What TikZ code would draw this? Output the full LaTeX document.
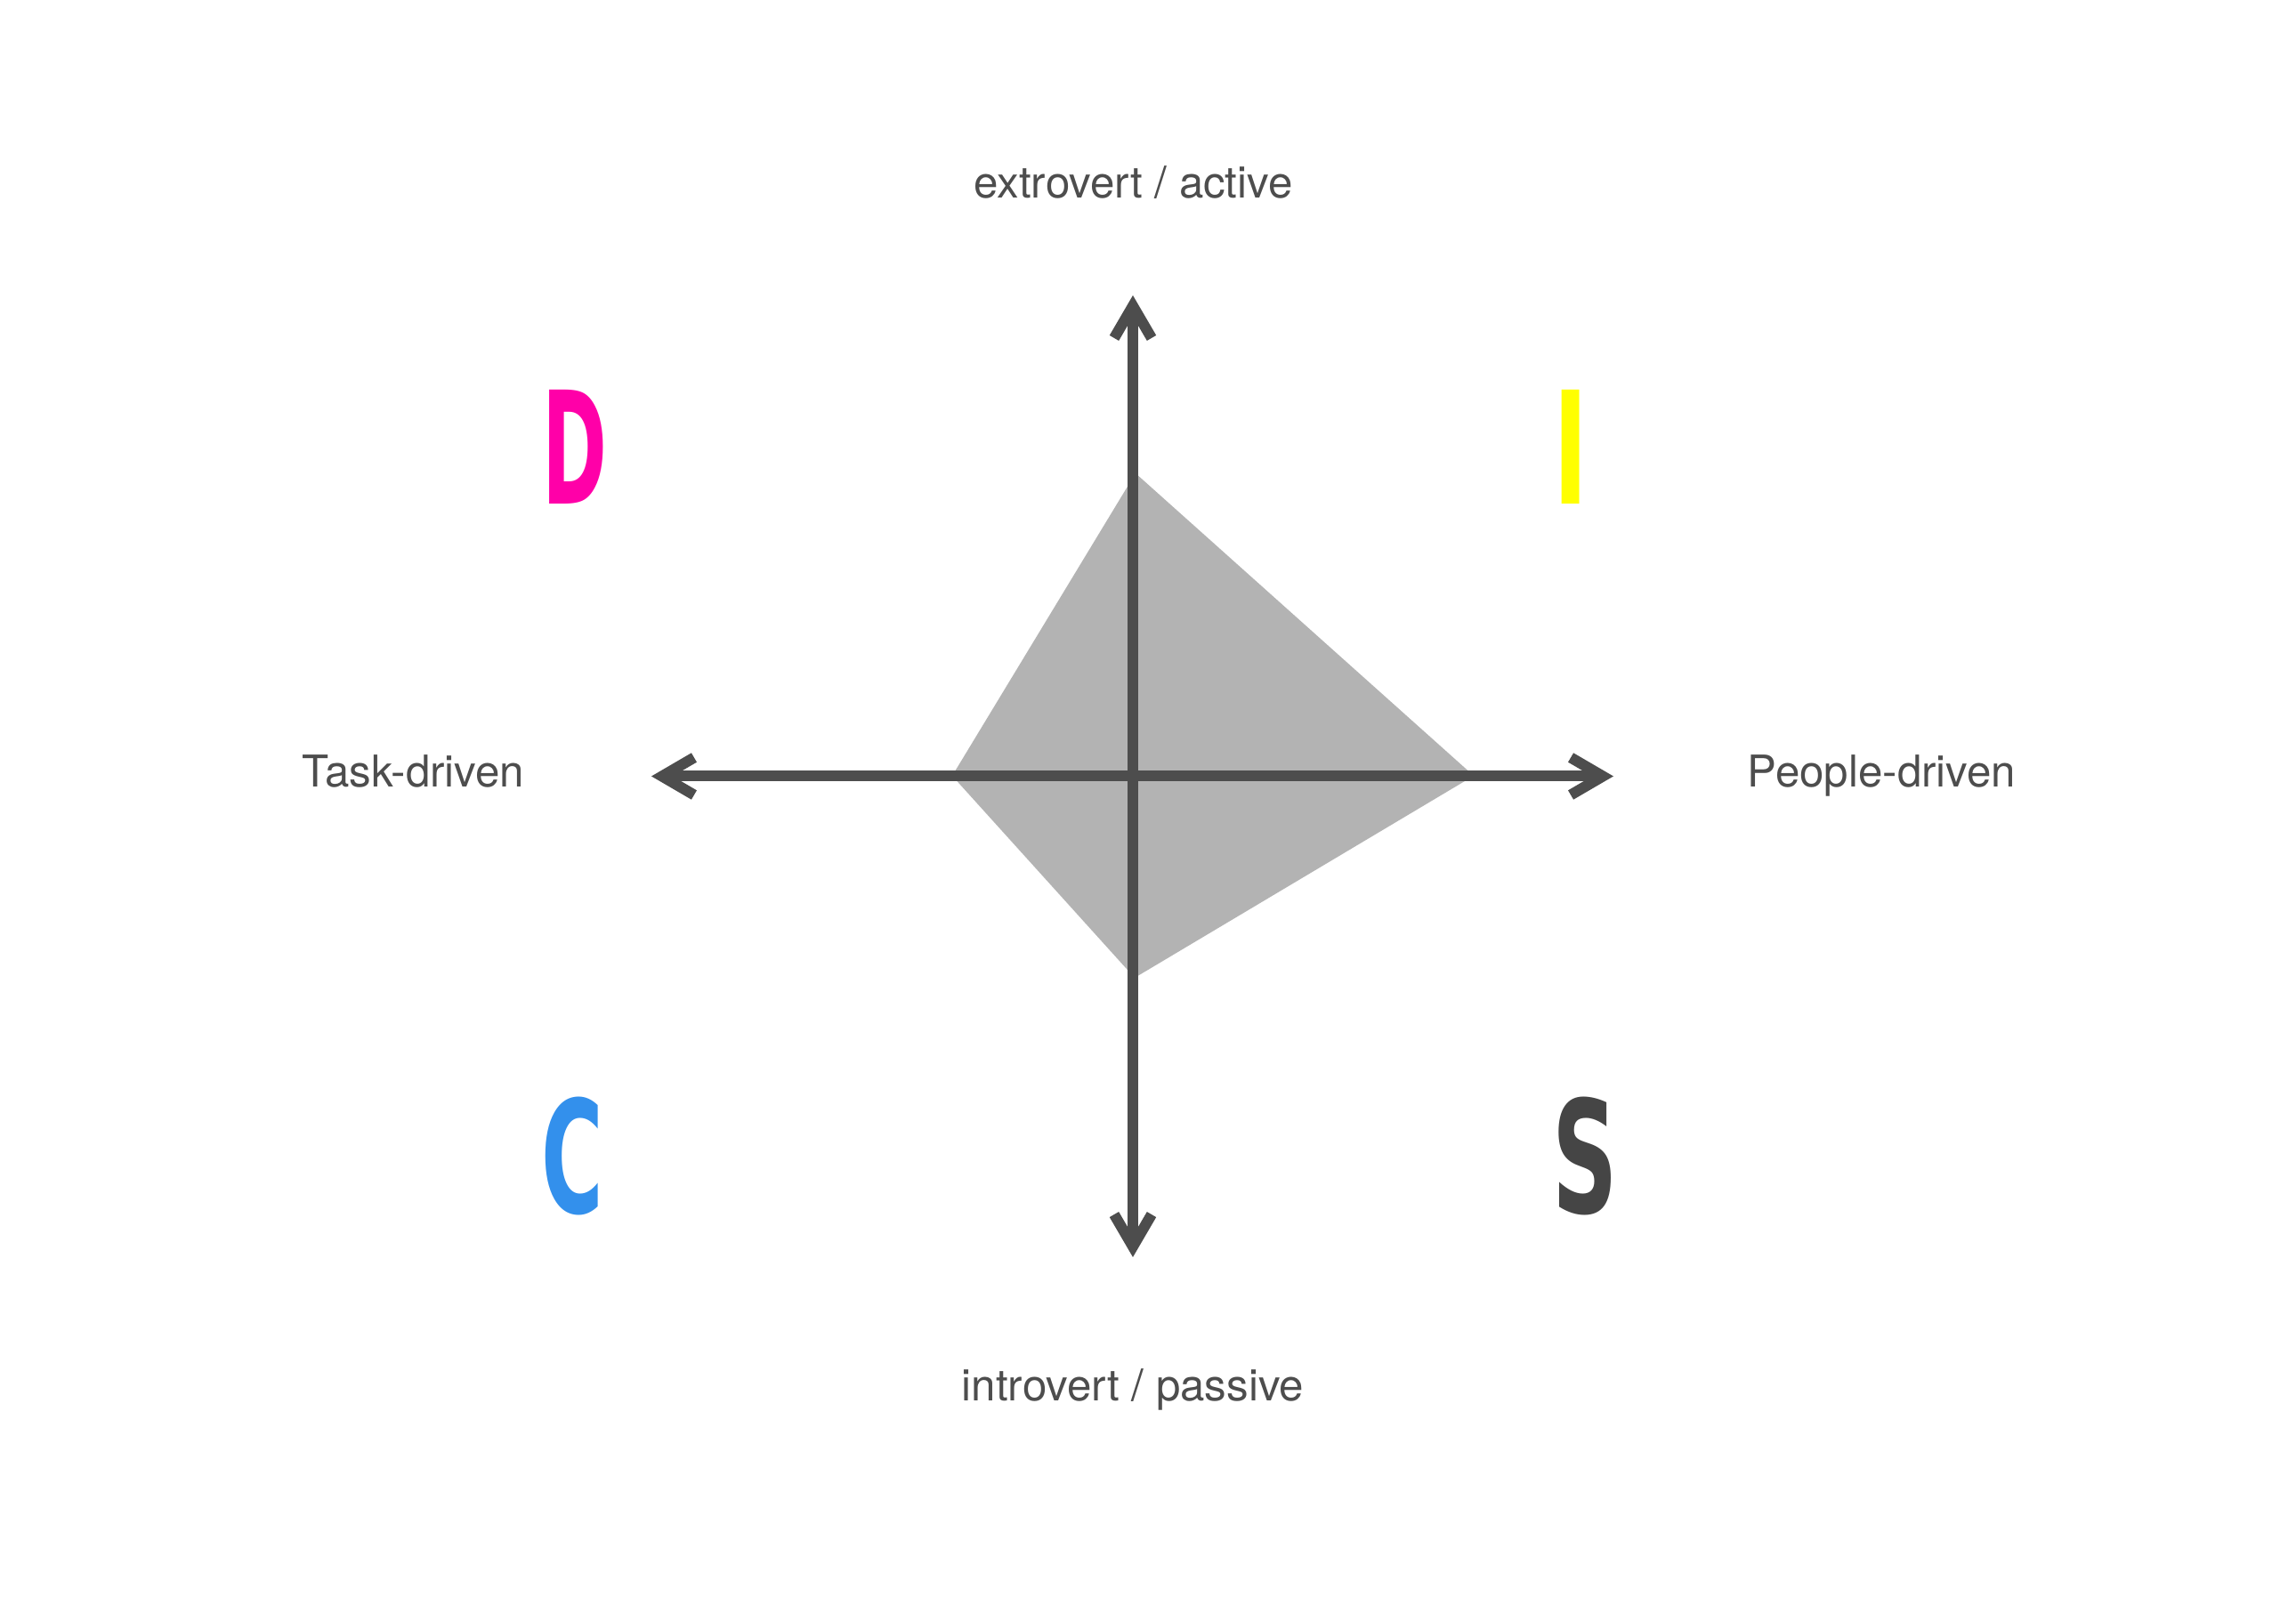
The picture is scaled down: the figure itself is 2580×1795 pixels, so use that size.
\documentclass[tikz,border=0pt]{standalone}
\usepackage{fontspec}
\setmainfont{TeX Gyre Heros}
\newfontfamily\letterfont{DejaVu Sans}
\usetikzlibrary{arrows.meta}
\definecolor{axisgray}{HTML}{4D4D4D}
\definecolor{fillgray}{HTML}{B3B3B3}
\definecolor{dpink}{HTML}{FF00A8}
\definecolor{iyellow}{HTML}{FFFF00}
\definecolor{cblue}{HTML}{3390EC}
\definecolor{sdark}{HTML}{454545}
\definecolor{labelgray}{HTML}{4D4D4D}
\begin{document}
\begin{tikzpicture}[x=0.01cm,y=-0.01cm,
  barb/.tip={Straight Barb[length=0.36cm,width=0.42cm]},
  axis/.style={draw=axisgray, line width=0.12cm, barb-barb},
  axislabel/.style={text=labelgray, font=\fontsize{14}{16}\selectfont, inner sep=0pt, anchor=base},
  letter/.style={inner sep=0pt, anchor=base, font=\letterfont\bfseries\fontsize{50}{60}\selectfont}]
\useasboundingbox (0,0) rectangle (2580,1795);
\fill[white] (0,0) rectangle (2580,1795);
% grey profile
\coordinate (pT) at (1276,532);
\coordinate (pR) at (1656,872);
\coordinate (pB) at (1275,1099);
\coordinate (pL) at (1070,872);
\fill[fillgray] (pT) -- (pR) -- (pB) -- (pL) -- cycle;
% axes
\coordinate (L) at (732,872.5);
\coordinate (R) at (1813,872.5);
\coordinate (T) at (1273,332);
\coordinate (B) at (1273,1413);
\draw[axis] (L) -- (R);
\draw[axis] (B) -- (T);
% axis labels
\node[axislabel] (top) at (1273.5,223) {extrovert / active};
\node[axislabel] (bottom) at (1273,1575) {introvert / passive};
\node[axislabel] (left) at (464.5,885) {Task-driven};
\node[axislabel] (right) at (2114.5,885) {People-driven};
% quadrant letters
\node[letter,text=dpink] (D) at (646,567) {\scalebox{0.5}[1]{D}};
\node[letter,text=iyellow] (I) at (1765,567) {\scalebox{0.6}[1]{I}};
\node[letter,text=cblue] (C) at (643.5,1364) {\scalebox{0.54}[1]{C}};
\node[letter,text=sdark] (S) at (1781.5,1364) {\scalebox{0.58}[1]{S}};
\end{tikzpicture}
\end{document}
